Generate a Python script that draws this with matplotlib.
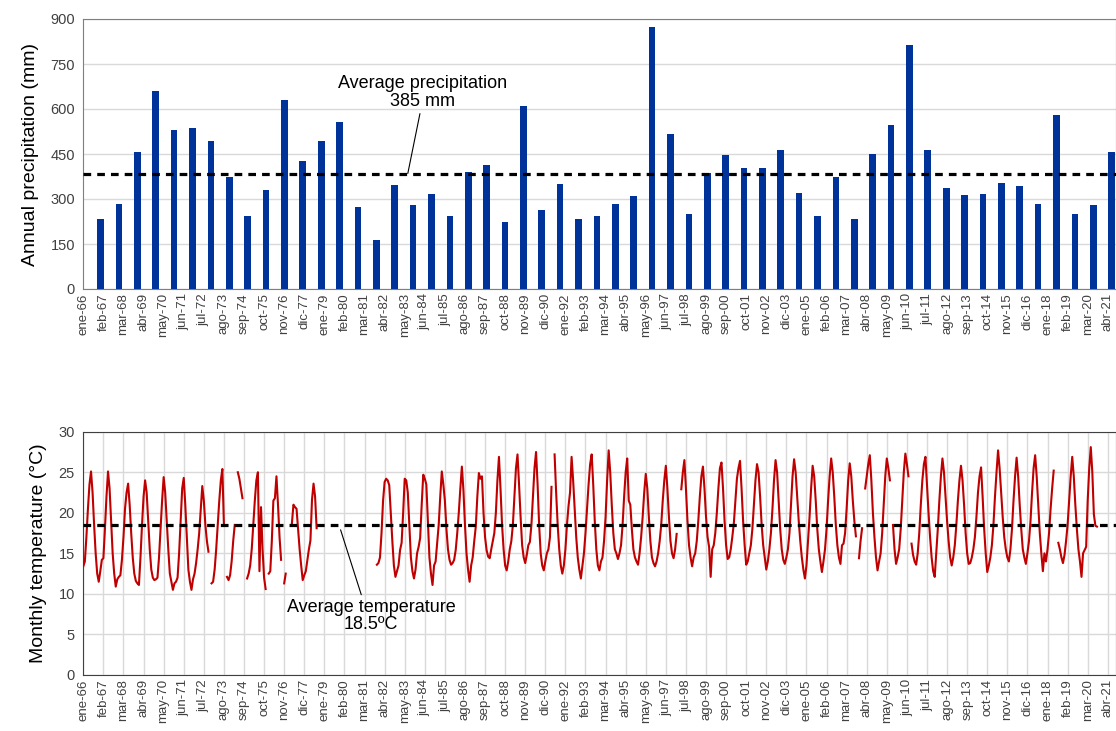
import numpy as np
import matplotlib.pyplot as plt

plt.rcParams['font.family'] = ['Liberation Sans', 'DejaVu Sans']

nan = np.nan

# annual precipitation, one bar per year 1966..2021
years = list(range(1966, 2022))
precip_mm = [234, 284, 458, 661, 530, 537, 495, 373, 245, 331,
             630, 426, 495, 556, 275, 162, 346, 279, 317, 243,
             391, 415, 223, 610, 264, 350, 235, 244, 284, 309,
             875, 517, 250, 387, 447, 402, 402, 462, 320, 242,
             373, 234, 451, 548, 813, 462, 336, 312, 316, 353,
             345, 284, 580, 251, 279, 458]
precip_avg = 385

# monthly temperature (ºC), jan..dec for each year 1966..2021, gaps = nan
temp_c = [
    13.4, 14.0, 17.0, 20.5, 23.5, 25.1, 22.5, 18.5, 15.0, 12.5, 11.5, 12.8,   # 1966
    14.2, 14.4, 18.0, 22.0, 25.1, 23.0, 19.0, 15.0, 12.5, 10.9, 11.8, 12.1,   # 1967
    12.3, 14.2, 17.0, 20.5, 22.5, 23.6, 21.0, 17.5, 14.5, 12.5, 11.6, 11.3,   # 1968
    11.1, 14.5, 18.5, 22.0, 24.0, 22.5, 19.0, 15.5, 13.0, 12.0, 11.7, 11.8,   # 1969
    12.0, 14.5, 18.0, 21.5, 24.4, 22.5, 19.0, 15.5, 12.5, 11.5, 10.5, 11.3,   # 1970
    11.5, 12.0, 15.0, 19.0, 23.0, 24.3, 21.0, 17.0, 13.0, 11.5, 10.5, 11.8,   # 1971
    12.5, 13.8, 15.5, 17.5, 20.5, 23.3, 21.5, 18.5, 16.5, 15.2, nan, 11.3,    # 1972
    11.5, 13.0, 15.5, 18.5, 21.5, 24.0, 25.4, 18.5, nan, 12.1, 11.7, 12.3,    # 1973
    14.0, 16.5, 18.5, nan, 25.0, 24.2, 23.0, 21.8, nan, nan, 11.9, 12.5,      # 1974
    13.5, 15.5, 18.5, 21.5, 24.0, 25.0, 12.8, 20.7, 15.5, 12.0, 10.6, nan,    # 1975
    12.5, 12.8, 16.5, 21.5, 21.8, 24.5, 21.0, 17.0, 14.2, nan, 11.3, 12.5,    # 1976
    nan, nan, nan, 18.7, 21.0, 20.7, 20.5, 18.0, 15.5, 13.5, 11.7, 12.3,      # 1977
    12.8, 14.2, 15.5, 16.6, 21.6, 23.6, 22.0, 18.1, nan, nan, nan, nan,       # 1978
    nan, nan, nan, nan, nan, nan, nan, nan, nan, nan, nan, nan,               # 1979
    nan, nan, nan, nan, nan, nan, nan, nan, nan, nan, nan, nan,               # 1980
    nan, nan, nan, nan, nan, nan, nan, nan, nan, nan, 13.6, 13.8,             # 1981
    14.5, 17.5, 21.5, 23.8, 24.2, 24.0, 23.4, 20.0, 16.5, 13.5, 12.1, 12.8,   # 1982
    13.5, 15.4, 16.3, 20.0, 24.2, 24.0, 22.5, 18.5, 14.5, 12.8, 11.9, 13.0,   # 1983
    15.0, 15.8, 16.9, 21.0, 24.7, 24.2, 23.5, 19.0, 14.5, 12.5, 11.1, 13.5,   # 1984
    14.0, 16.2, 18.5, 22.0, 25.1, 23.5, 21.5, 18.0, 15.5, 14.2, 13.6, 13.8,   # 1985
    14.2, 15.4, 17.5, 20.0, 23.0, 25.7, 22.8, 18.5, 15.0, 13.0, 11.5, 13.5,   # 1986
    14.5, 16.5, 18.3, 22.0, 24.9, 24.2, 24.5, 20.0, 17.0, 15.4, 14.6, 14.4,   # 1987
    15.5, 16.5, 17.5, 20.0, 24.0, 26.9, 23.0, 18.5, 15.5, 13.5, 12.9, 14.0,   # 1988
    15.5, 16.5, 18.5, 22.0, 25.5, 27.2, 23.5, 19.5, 16.0, 14.5, 13.8, 14.8,   # 1989
    16.0, 16.4, 18.5, 22.0, 25.5, 27.5, 23.5, 18.5, 15.0, 13.5, 12.9, 14.0,   # 1990
    15.0, 15.5, 17.0, 23.2, nan, 27.2, 22.5, 18.5, 15.5, 13.5, 12.5, 13.5,    # 1991
    15.5, 18.5, 20.8, 22.5, 26.9, 24.0, 20.5, 17.0, 14.5, 13.0, 11.9, 13.5,   # 1992
    15.0, 17.5, 20.5, 23.5, 26.0, 27.2, 23.5, 19.0, 15.5, 13.5, 12.9, 14.0,   # 1993
    14.5, 16.5, 19.5, 24.0, 27.7, 25.0, 21.0, 17.5, 15.5, 15.0, 14.3, 15.0,   # 1994
    16.0, 18.5, 22.0, 25.0, 26.7, 21.5, 21.0, 18.0, 15.5, 14.5, 14.0, 13.6,   # 1995
    15.0, 17.0, 19.5, 22.5, 24.8, 23.0, 19.5, 16.5, 14.5, 13.8, 13.4, 14.0,   # 1996
    15.0, 16.5, 18.5, 21.5, 24.0, 25.8, 23.0, 19.5, 16.5, 15.0, 14.4, 15.5,   # 1997
    17.4, nan, nan, 22.9, 25.0, 26.5, 23.0, 19.0, 16.0, 14.5, 13.4, 14.5,     # 1998
    15.0, 16.5, 19.0, 22.0, 24.5, 25.7, 23.0, 19.5, 17.0, 15.8, 12.1, 15.5,   # 1999
    16.0, 17.5, 20.0, 23.0, 25.5, 26.2, 23.0, 19.0, 16.0, 14.3, 14.5, 15.5,   # 2000
    17.0, 18.7, 21.5, 24.2, 25.5, 26.4, 23.0, 19.0, 16.0, 13.6, 14.0, 15.0,   # 2001
    16.0, 18.0, 21.0, 24.0, 26.0, 25.0, 22.0, 18.5, 16.0, 14.5, 13.0, 14.0,   # 2002
    15.5, 17.5, 20.5, 24.0, 26.5, 25.0, 21.5, 18.0, 15.5, 14.2, 13.7, 14.5,   # 2003
    15.5, 17.5, 21.0, 24.5, 26.6, 25.0, 22.0, 19.0, 16.5, 14.5, 13.0, 11.9,   # 2004
    13.5, 16.5, 19.5, 23.0, 25.8, 24.5, 21.5, 18.0, 15.5, 14.0, 12.7, 14.0,   # 2005
    15.5, 18.0, 21.5, 24.5, 26.7, 25.0, 22.0, 18.5, 16.0, 14.5, 13.7, 16.0,   # 2006
    16.2, 17.5, 20.5, 24.0, 26.1, 24.5, 21.5, 19.0, 17.1, nan, 14.4, 16.5,    # 2007
    18.1, nan, 23.0, 24.5, 26.0, 27.1, 24.0, 20.0, 17.0, 14.5, 12.9, 14.0,    # 2008
    15.0, 17.5, 21.0, 24.5, 26.7, 25.5, 24.0, nan, 18.5, 15.5, 13.7, 14.5,    # 2009
    15.5, 18.0, 21.5, 25.0, 27.3, 26.0, 24.5, nan, 16.2, 14.8, 14.0, 13.6,    # 2010
    15.0, 17.5, 21.0, 24.0, 26.0, 26.9, 23.5, 20.0, 17.0, 14.5, 12.8, 12.1,   # 2011
    15.0, 18.0, 21.5, 24.5, 26.7, 25.0, 22.0, 19.0, 16.5, 14.5, 13.5, 14.5,   # 2012
    16.0, 18.5, 21.5, 24.0, 25.8, 24.0, 21.0, 17.5, 15.0, 13.7, 13.8, 14.5,   # 2013
    15.5, 17.0, 19.5, 22.5, 24.5, 25.6, 22.0, 18.0, 15.0, 12.7, 13.5, 14.5,   # 2014
    16.0, 18.5, 22.0, 25.0, 27.7, 25.5, 22.5, 19.5, 17.0, 15.5, 14.5, 14.0,   # 2015
    15.5, 18.0, 21.5, 24.5, 26.8, 24.5, 21.0, 18.0, 15.5, 14.5, 13.7, 15.0,   # 2016
    16.5, 19.0, 22.5, 25.5, 27.1, 24.5, 21.0, 17.5, 15.0, 12.8, 15.0, 14.0,   # 2017
    15.5, 17.5, 20.5, 23.0, 25.2, nan, nan, 16.3, 15.5, 14.5, 13.8, 14.8,     # 2018
    16.5, 18.5, 21.5, 24.5, 26.9, 24.5, 21.0, 18.0, 15.5, 14.0, 12.1, 15.0,   # 2019
    15.4, 15.8, 21.5, 25.5, 28.1, 25.0, 19.8, 18.4, 18.3, nan, nan, nan,      # 2020
    nan, nan, nan, nan, nan, nan, nan, nan, nan, nan, nan, nan,               # 2021
]
temp_avg = 18.5

# date labels every 13 months starting jan-1966
tick_labels = ['ene-66', 'feb-67', 'mar-68', 'abr-69', 'may-70', 'jun-71', 'jul-72',
               'ago-73', 'sep-74', 'oct-75', 'nov-76', 'dic-77', 'ene-79', 'feb-80',
               'mar-81', 'abr-82', 'may-83', 'jun-84', 'jul-85', 'ago-86', 'sep-87',
               'oct-88', 'nov-89', 'dic-90', 'ene-92', 'feb-93', 'mar-94', 'abr-95',
               'may-96', 'jun-97', 'jul-98', 'ago-99', 'sep-00', 'oct-01', 'nov-02',
               'dic-03', 'ene-05', 'feb-06', 'mar-07', 'abr-08', 'may-09', 'jun-10',
               'jul-11', 'ago-12', 'sep-13', 'oct-14', 'nov-15', 'dic-16', 'ene-18',
               'feb-19', 'mar-20', 'abr-21']

# x axis in months since jan-1966
months = np.arange(len(temp_c))
tick_pos = np.arange(len(tick_labels)) * 13
bar_pos = np.linspace(11.2, 665.5, len(years))
x_max = 668

W, H = 1116, 731
fig = plt.figure(figsize=(W / 100, H / 100), dpi=100)
left = 83.3 / W
width = (W - 0.5 - 83.3) / W
ax1 = fig.add_axes([left, 1 - 289 / H, width, (289 - 19) / H])
ax2 = fig.add_axes([left, 1 - 675 / H, width, (675 - 431.7) / H])

grid_c = '#d9d9d9'
tick_c = '#404040'

# --- precipitation ---
ax1.bar(bar_pos, precip_mm, width=4.3, color='#003399', zorder=3)
ax1.axhline(precip_avg, color='black', lw=2.3, dashes=(2.4, 1.9), zorder=4)
ax1.set_xlim(0, x_max)
ax1.set_ylim(0, 900)
ax1.set_yticks(np.arange(0, 901, 150))
ax1.yaxis.grid(True, color=grid_c, lw=1, zorder=0)
ax1.set_ylabel('Annual precipitation (mm)', fontsize=14, labelpad=8)
ax1.annotate('Average precipitation\n385 mm', xy=(210, precip_avg), xytext=(219.5, 655),
             ha='center', va='center', fontsize=13, linespacing=1.0,
             arrowprops=dict(arrowstyle='-', color='black', lw=0.8,
                             shrinkA=1, shrinkB=0, relpos=(0.49, 0)))
for s in ax1.spines.values():
    s.set_color('#7f7f7f')

# --- temperature ---
ax2.plot(months, temp_c, color='#c00000', lw=1.5, zorder=3)
ax2.axhline(temp_avg, color='black', lw=2.3, dashes=(2.4, 1.9), zorder=4)
ax2.set_xlim(0, x_max)
ax2.set_ylim(0, 30)
ax2.set_yticks(np.arange(0, 31, 5))
ax2.grid(True, color=grid_c, lw=1, zorder=0)
ax2.set_ylabel('Monthly temperature (°C)', fontsize=14, labelpad=8)
ax2.annotate('Average temperature\n18.5ºC', xy=(166.5, 17.9), xytext=(186.2, 7.3),
             ha='center', va='center', fontsize=13, linespacing=1.0,
             arrowprops=dict(arrowstyle='-', color='black', lw=0.8,
                             shrinkA=1, shrinkB=0, relpos=(0.45, 1)))
for s in ax2.spines.values():
    s.set_color('#404040')

for ax in (ax1, ax2):
    ax.set_xticks(tick_pos)
    ax.set_xticklabels(tick_labels, rotation=90, fontsize=9.5, color=tick_c)
    ax.tick_params(axis='x', length=0, pad=3)
    ax.tick_params(axis='y', length=0, pad=6, labelsize=10.5, labelcolor=tick_c)
    ax.set_axisbelow(True)

fig.savefig('out.png', dpi=100)
